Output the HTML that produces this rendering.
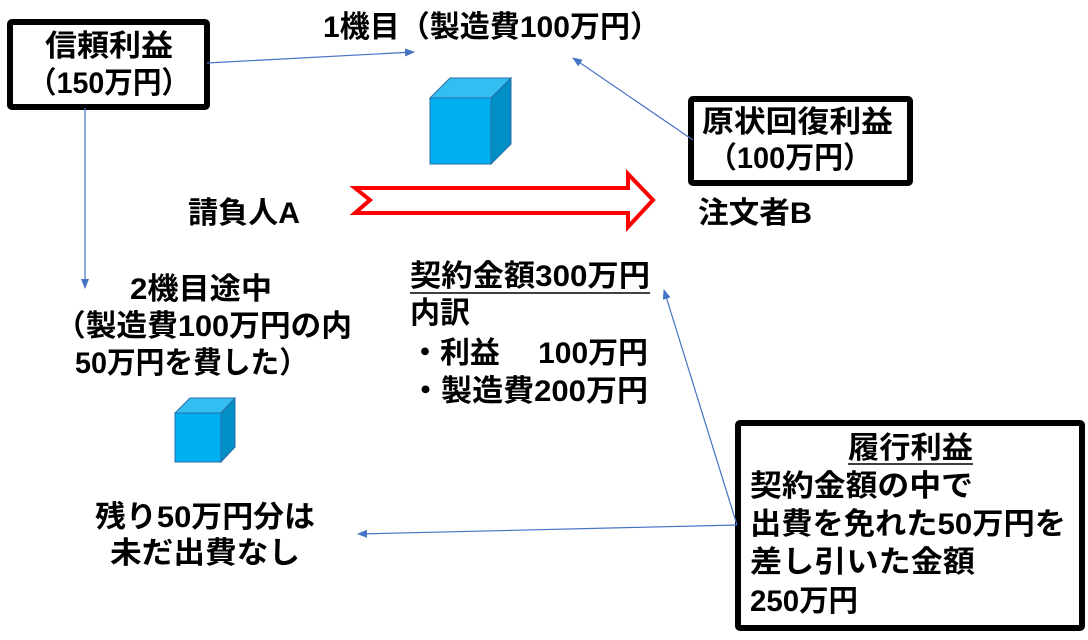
<!DOCTYPE html>
<html><head><meta charset="utf-8"><style>
html,body{margin:0;padding:0;background:#fff;}
svg{display:block;}
text{font-family:"Liberation Sans","Noto Sans CJK JP",sans-serif;font-size:30px;font-weight:bold;fill:#000;}
</style></head><body>
<svg width="1088" height="640" viewBox="0 0 1088 640" xmlns="http://www.w3.org/2000/svg">
<defs>
<marker id="ah" markerWidth="10" markerHeight="8" refX="9" refY="4" orient="auto" markerUnits="userSpaceOnUse">
<path d="M0,0 L10,4 L0,8 z" fill="#4472C4"/></marker>
</defs>
<rect x="10" y="22" width="197" height="85" fill="#fff" stroke="#000" stroke-width="6" rx="2"/>
<rect x="691" y="99" width="219" height="84" fill="#fff" stroke="#000" stroke-width="6" rx="2"/>
<rect x="738" y="423" width="344" height="205" fill="#fff" stroke="#000" stroke-width="6" rx="2"/>
<g stroke="#4472C4" stroke-width="1.2" fill="none">
<line x1="207" y1="63" x2="414" y2="52" marker-end="url(#ah)"/>
<line x1="693" y1="140" x2="573" y2="58" marker-end="url(#ah)"/>
<line x1="85" y1="108" x2="85" y2="288" marker-end="url(#ah)"/>
<line x1="737" y1="525" x2="664" y2="290" marker-end="url(#ah)"/>
<line x1="737" y1="525" x2="358" y2="534" marker-end="url(#ah)"/>
</g>
<path d="M355,188 L628,188 L628,174 L653,200 L628,227 L628,213 L355,213 L370,200 Z" fill="#fff" stroke="#f00" stroke-width="4"/>
<path d="M430,98 L450,78 L511,78 L491,98 Z" fill="#33bdf0" stroke="#2a6ea8" stroke-width="1"/>
<path d="M491,98 L511,78 L511,144 L491,164 Z" fill="#0090c6" stroke="#2a6ea8" stroke-width="1"/>
<rect x="430" y="98" width="61" height="66" fill="#00b0f0" stroke="#2a6ea8" stroke-width="1"/>
<path d="M175,413 L190,398 L235,398 L221,413 Z" fill="#33bdf0" stroke="#2a6ea8" stroke-width="1"/>
<path d="M221,413 L235,398 L235,447 L221,462 Z" fill="#0090c6" stroke="#2a6ea8" stroke-width="1"/>
<rect x="175" y="413" width="46" height="49" fill="#00b0f0" stroke="#2a6ea8" stroke-width="1"/>
<text x="45" y="56" textLength="128" lengthAdjust="spacingAndGlyphs">信頼利益</text>
<text x="28" y="93" textLength="162" lengthAdjust="spacingAndGlyphs">（150万円）</text>
<text x="323" y="37" textLength="337" lengthAdjust="spacingAndGlyphs">1機目（製造費100万円）</text>
<text x="702" y="132" textLength="191" lengthAdjust="spacingAndGlyphs">原状回復利益</text>
<text x="708" y="168" textLength="164" lengthAdjust="spacingAndGlyphs">（100万円）</text>
<text x="188" y="223" textLength="112" lengthAdjust="spacingAndGlyphs">請負人A</text>
<text x="698" y="223" textLength="114" lengthAdjust="spacingAndGlyphs">注文者B</text>
<text x="130" y="299" textLength="142" lengthAdjust="spacingAndGlyphs">2機目途中</text>
<text x="55" y="336" textLength="297" lengthAdjust="spacingAndGlyphs">（製造費100万円の内</text>
<text x="75" y="373" textLength="233" lengthAdjust="spacingAndGlyphs">50万円を費した）</text>
<text x="410" y="286" textLength="240" lengthAdjust="spacingAndGlyphs">契約金額300万円</text>
<line x1="410" y1="293" x2="650" y2="293" stroke="#000" stroke-width="1.5"/>
<text x="410" y="323" textLength="60" lengthAdjust="spacingAndGlyphs">内訳</text>
<text x="410" y="363" textLength="238" lengthAdjust="spacingAndGlyphs">・利益　 100万円</text>
<text x="410" y="401" textLength="238" lengthAdjust="spacingAndGlyphs">・製造費200万円</text>
<text x="95" y="527" textLength="220" lengthAdjust="spacingAndGlyphs">残り50万円分は</text>
<text x="110" y="563" textLength="190" lengthAdjust="spacingAndGlyphs">未だ出費なし</text>
<text x="848" y="458" textLength="125" lengthAdjust="spacingAndGlyphs">履行利益</text>
<line x1="848" y1="464" x2="973" y2="464" stroke="#000" stroke-width="1.5"/>
<text x="750" y="496" textLength="223" lengthAdjust="spacingAndGlyphs">契約金額の中で</text>
<text x="750" y="534" textLength="316" lengthAdjust="spacingAndGlyphs">出費を免れた50万円を</text>
<text x="750" y="572" textLength="225" lengthAdjust="spacingAndGlyphs">差し引いた金額</text>
<text x="750" y="611" textLength="108" lengthAdjust="spacingAndGlyphs">250万円</text>
</svg>
</body></html>
